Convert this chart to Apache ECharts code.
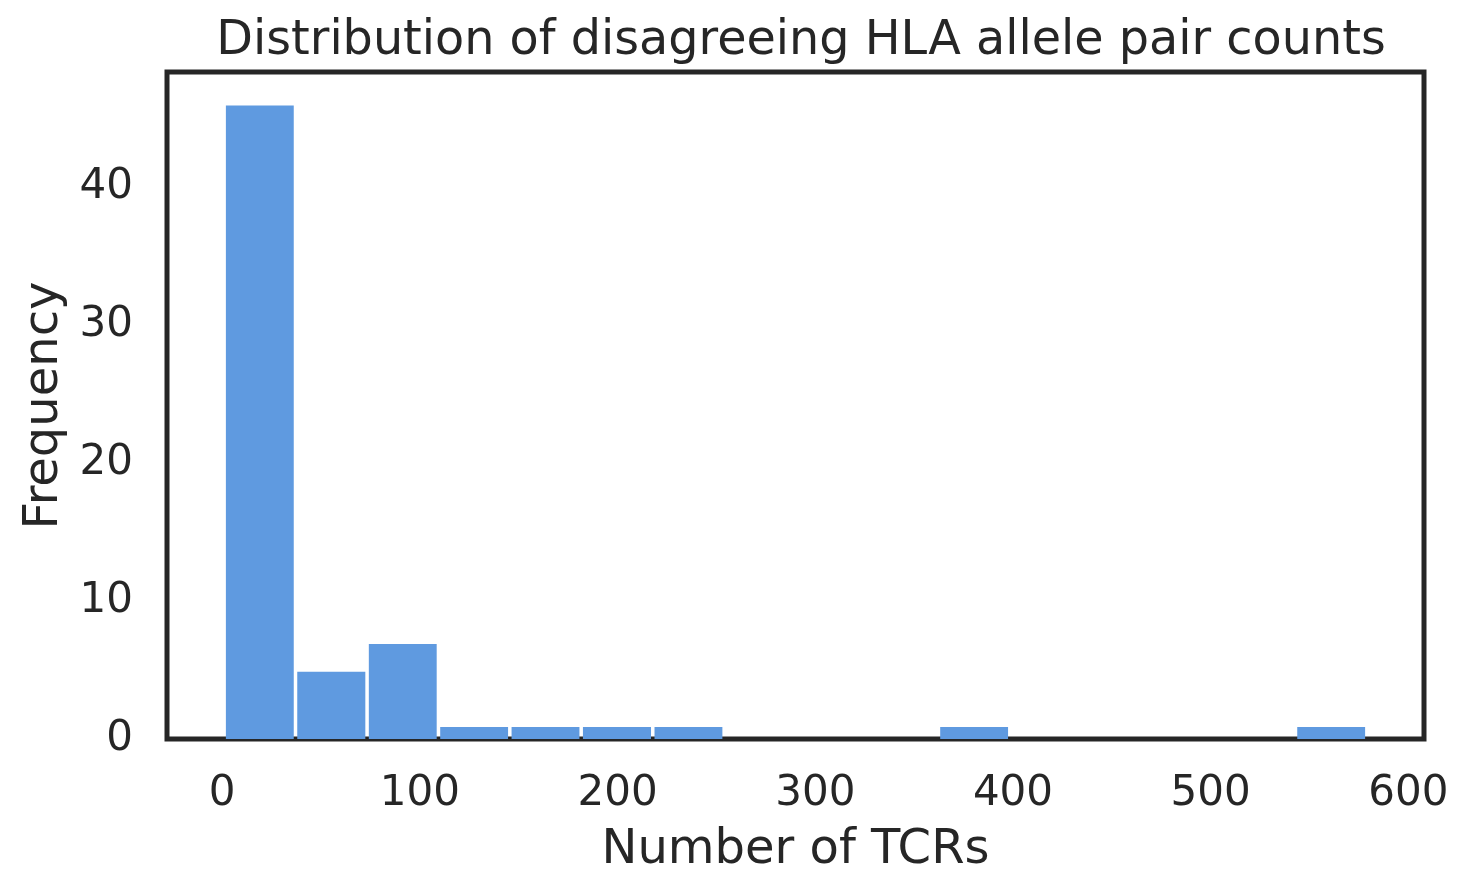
<!DOCTYPE html>
<html>
<head>
<meta charset="utf-8">
<script src="https://cdn.jsdelivr.net/npm/echarts@6/dist/echarts.min.js"></script>
<style>
	html, body { margin: 0; padding: 0; background: #fff; }
	#chart { width: 1469px; height: 894px; }
</style>
</head>
<body>
<div id="chart"></div>
<script>
var binEdges = [1, 37.1, 73.3, 109.4, 145.5, 181.6, 217.8, 253.9, 290, 326.1, 362.3, 398.4, 434.5, 470.6, 506.8, 542.9, 579];	// 直方图分箱边界
var binCounts = [46, 5, 7, 1, 1, 1, 1, 0, 0, 0, 1, 0, 0, 0, 0, 1];	// 每个分箱的频数
var xTicks = [0, 100, 200, 300, 400, 500, 600];
var yTicks = [0, 10, 20, 30, 40];

var textColor = '#262626',
	barColor = '#5f9ae0',
	fontFamily = 'DejaVu Sans';

var histData = binCounts.map(function (c, i) {
	return [binEdges[i], binEdges[i + 1], c];
});

var chart = echarts.init(document.getElementById('chart'));

chart.setOption({
	animation: false,
	backgroundColor: '#fff',
	textStyle: { fontFamily: fontFamily, color: textColor },
	title: {
		text: 'Distribution of disagreeing HLA allele pair counts',
		left: 796,
		top: 13,
		textAlign: 'center',
		textStyle: { fontFamily: fontFamily, fontSize: 47.7, fontWeight: 'normal', color: textColor }
	},
	grid: {
		left: 167, right: 45, top: 72, bottom: 155,
		outerBoundsMode: 'none',
		containLabel: false,
		show: true,
		borderColor: textColor,
		borderWidth: 5,
		backgroundColor: 'transparent'
	},
	xAxis: {
		type: 'value',
		min: -27.9,
		max: 607.9,
		name: 'Number of TCRs',
		nameLocation: 'middle',
		nameGap: 88,
		nameTextStyle: { fontFamily: fontFamily, fontSize: 48, color: textColor },
		axisLine: { show: false },
		axisTick: { show: false },
		splitLine: { show: false },
		axisLabel: {
			fontFamily: fontFamily, fontSize: 42, color: textColor, margin: 34,
			formatter: function (v) { return xTicks.indexOf(v) >= 0 ? String(v) : ''; }
		}
	},
	yAxis: {
		type: 'value',
		min: 0,
		max: 48.3,
		interval: 10,
		name: 'Frequency',
		nameLocation: 'middle',
		nameGap: 97,
		nameTextStyle: { fontFamily: fontFamily, fontSize: 48, color: textColor },
		axisLine: { show: false },
		axisTick: { show: false },
		splitLine: { show: false },
		axisLabel: {
			fontFamily: fontFamily, fontSize: 42, color: textColor, margin: 34,
			padding: [14, 0, 0, 0],
			formatter: function (v) { return yTicks.indexOf(v) >= 0 ? String(v) : ''; }
		}
	},
	series: [{
		type: 'custom',
		data: histData,
		encode: { x: [0, 1], y: 2 },
		renderItem: function (params, api) {
			if (api.value(2) <= 0) return null;
			var p0 = api.coord([api.value(0), api.value(2)]),
				p1 = api.coord([api.value(1), 0]),
				gap = 1.75;
			return {
				type: 'rect',
				shape: {
					x: p0[0] + gap,
					y: p0[1] + gap,
					width: p1[0] - p0[0] - gap * 2,
					height: p1[1] - p0[1] - gap
				},
				style: { fill: barColor }
			};
		}
	}]
});
</script>
</body>
</html>
